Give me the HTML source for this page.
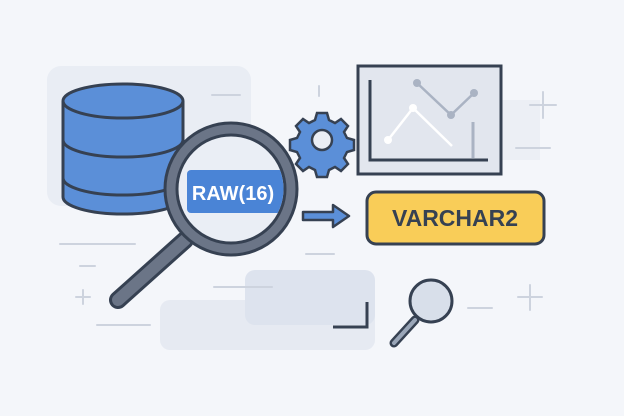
<!DOCTYPE html>
<html><head><style>body{margin:0;background:#f4f6fa}svg{display:block}</style></head><body>
<svg width="624" height="416" viewBox="0 0 624 416" xmlns="http://www.w3.org/2000/svg">
<rect width="624" height="416" fill="#f4f6fa"/>
<rect x="47" y="66" width="204" height="140" rx="14" fill="#e9edf4"/>
<rect x="160" y="300" width="215" height="50" rx="10" fill="#e6eaf2"/>
<rect x="245" y="270" width="130" height="55" rx="10" fill="#dde3ee"/>
<rect x="500" y="100" width="40" height="60" fill="#eceff5"/>
<g stroke="#cdd3de" stroke-width="2" stroke-linecap="round" fill="none">
<line x1="212" y1="95" x2="240" y2="95"/><line x1="60" y1="244" x2="135" y2="244"/><line x1="80" y1="266" x2="95" y2="266"/>
<line x1="214" y1="287" x2="272" y2="287"/><line x1="97" y1="325" x2="150" y2="325"/><line x1="306" y1="254" x2="334" y2="254"/>
<line x1="516" y1="148" x2="550" y2="148"/><line x1="468" y1="308" x2="492" y2="308"/>
<line x1="543" y1="92" x2="543" y2="118"/><line x1="530" y1="105" x2="556" y2="105"/>
<line x1="530" y1="285" x2="530" y2="310"/><line x1="518" y1="297" x2="542" y2="297"/>
<line x1="83" y1="290" x2="83" y2="304"/><line x1="76" y1="297" x2="90" y2="297"/>
<line x1="319" y1="86" x2="319" y2="96"/>
</g>
<!-- database -->
<g stroke="#364152" stroke-width="3" fill="#5b8fd8">
<path d="M63 101 V197 A60 17 0 0 0 183 197 V101"/>
<path d="M63 140 A60 17 0 0 0 183 140" fill="none"/>
<path d="M63 178 A60 17 0 0 0 183 178" fill="none"/>
<ellipse cx="123" cy="101" rx="60" ry="17"/>
</g>
<!-- magnifier -->
<line x1="185" y1="240" x2="118" y2="300" stroke="#364152" stroke-width="18" stroke-linecap="round"/>
<line x1="185" y1="240" x2="118" y2="300" stroke="#6b7587" stroke-width="12" stroke-linecap="round"/>
<circle cx="231" cy="189" r="66" fill="#6b7587" stroke="#364152" stroke-width="3"/>
<circle cx="231" cy="189" r="54" fill="#eaeef5" stroke="#364152" stroke-width="3"/>
<clipPath id="c"><circle cx="231" cy="189" r="52.5"/></clipPath>
<g clip-path="url(#c)">
<rect x="187" y="170" width="100" height="43" rx="4" fill="#4a84d6"/>
<text x="233" y="200" font-family="Liberation Sans,sans-serif" font-weight="bold" font-size="20" fill="#fff" text-anchor="middle">RAW(16)</text>
</g>
<!-- gear -->
<g transform="translate(322,140)" fill="#5b8fd8" stroke="#364152" stroke-width="2.5">
<path d="M-5-27h10l2 7 6 3 6-4 7 7-4 6 3 6 7 2v10l-7 2-3 6 4 6-7 7-6-4-6 3-2 7h-10l-2-7-6-3-6 4-7-7 4-6-3-6-7-2v-10l7-2 3-6-4-6 7-7 6 4 6-3z"/>
<circle r="10" fill="#eaeef5"/>
</g>
<!-- chart -->
<rect x="358" y="66" width="143" height="108" fill="#e2e6ee" stroke="#364152" stroke-width="3"/>
<polyline points="370,80 370,160 488,160" fill="none" stroke="#364152" stroke-width="3"/>
<line x1="473" y1="122" x2="473" y2="158" stroke="#aab3c3" stroke-width="3"/>
<polyline points="417,83 451,115 474,93" fill="none" stroke="#aab3c3" stroke-width="2.5"/>
<circle cx="417" cy="83" r="4" fill="#aab3c3"/><circle cx="451" cy="115" r="4" fill="#aab3c3"/><circle cx="474" cy="93" r="4" fill="#aab3c3"/>
<polyline points="388,140 413,108 452,146" fill="none" stroke="#fff" stroke-width="2.5"/>
<circle cx="388" cy="140" r="4" fill="#fff"/><circle cx="413" cy="108" r="4" fill="#fff"/>
<!-- arrow -->
<path d="M303 212h30v-7l16 11-16 11v-7h-30z" fill="#5b8fd8" stroke="#364152" stroke-width="2.5" stroke-linejoin="round"/>
<!-- varchar -->
<rect x="367" y="192" width="177" height="52" rx="9" fill="#f9cd58" stroke="#364152" stroke-width="3"/>
<text x="455" y="226" font-family="Liberation Sans,sans-serif" font-weight="bold" font-size="23" fill="#364152" text-anchor="middle">VARCHAR2</text>
<!-- corner -->
<polyline points="333,327 367,327 367,302" fill="none" stroke="#364152" stroke-width="3"/>
<!-- small magnifier -->
<line x1="415" y1="320" x2="394" y2="343" stroke="#364152" stroke-width="9" stroke-linecap="round"/>
<line x1="415" y1="320" x2="394" y2="343" stroke="#9aa6b8" stroke-width="4" stroke-linecap="round"/>
<circle cx="431" cy="301" r="21" fill="#d8dfea" stroke="#364152" stroke-width="3"/>
</svg>
</body></html>
